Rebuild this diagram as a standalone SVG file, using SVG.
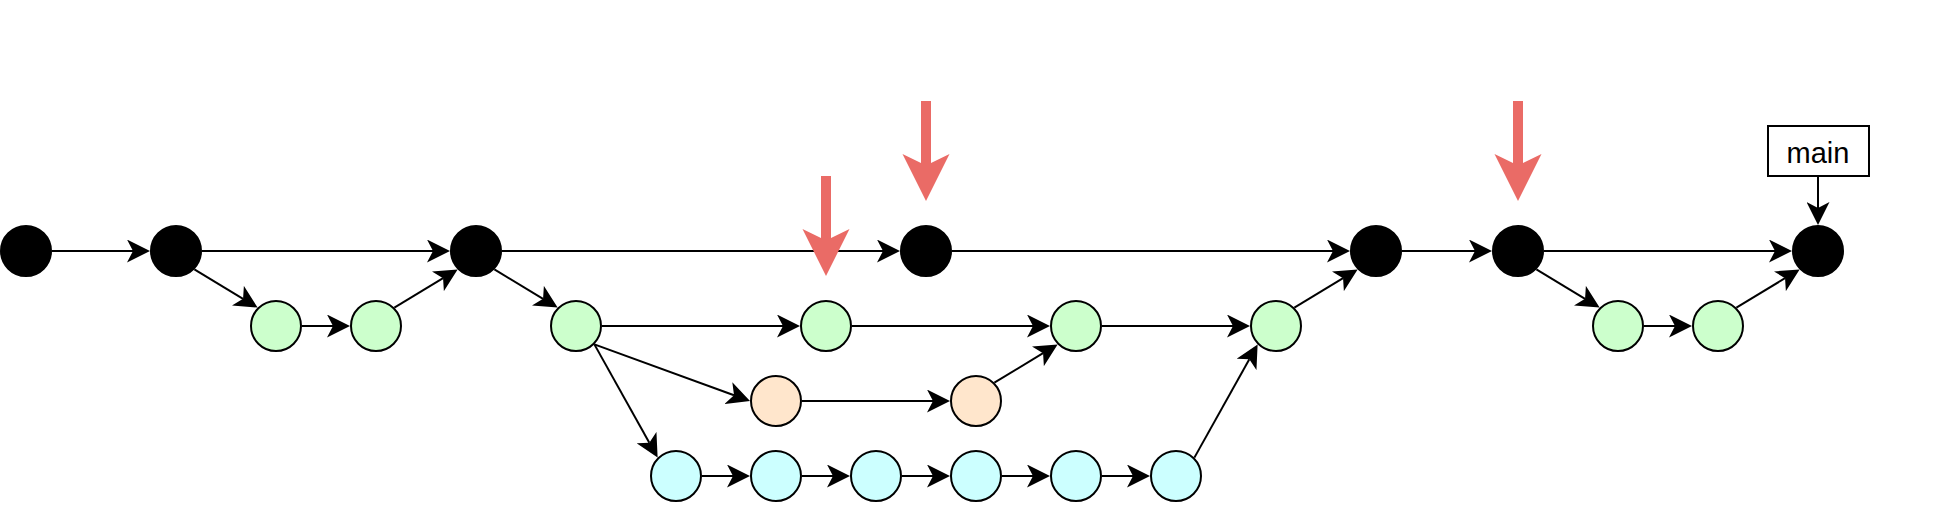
<svg xmlns="http://www.w3.org/2000/svg" width="1948" height="530" viewBox="0 0 1948 530">
<defs>
<style>
.blk{fill:#000;stroke:#000;stroke-width:2}
.grn{fill:#CCFFCC;stroke:#000;stroke-width:2}
.org{fill:#FFE6CC;stroke:#000;stroke-width:2}
.cyn{fill:#CCFFFF;stroke:#000;stroke-width:2}
.e{fill:none;stroke:#000;stroke-width:2;marker-end:url(#ah)}
.red{fill:#EA6B66;stroke:none}
.lbl{font-family:"Liberation Sans",Arial,sans-serif;font-size:29px;fill:#000;text-anchor:middle}
</style>
<marker id="ah" markerUnits="userSpaceOnUse" viewBox="0 0 23 23" markerWidth="23" markerHeight="23" refX="6" refY="11.5" orient="auto">
<path d="M0,0 L23,11.5 L0,23 L6,11.5 Z" fill="#000"/>
</marker>
</defs>
<rect width="1948" height="530" fill="#fff"/>
<g id="connectors">
<line class="e" x1="52" y1="251" x2="133" y2="251"/>
<line class="e" x1="202" y1="251" x2="433" y2="251"/>
<line class="e" x1="502" y1="251" x2="883" y2="251"/>
<line class="e" x1="952" y1="251" x2="1333" y2="251"/>
<line class="e" x1="1402" y1="251" x2="1475" y2="251"/>
<line class="e" x1="1544" y1="251" x2="1775" y2="251"/>
<line class="e" x1="302" y1="326" x2="333" y2="326"/>
<line class="e" x1="602" y1="326" x2="783" y2="326"/>
<line class="e" x1="852" y1="326" x2="1033" y2="326"/>
<line class="e" x1="1102" y1="326" x2="1233" y2="326"/>
<line class="e" x1="1644" y1="326" x2="1675" y2="326"/>
<line class="e" x1="802" y1="401" x2="933" y2="401"/>
<line class="e" x1="702" y1="476" x2="733" y2="476"/>
<line class="e" x1="802" y1="476" x2="833" y2="476"/>
<line class="e" x1="902" y1="476" x2="933" y2="476"/>
<line class="e" x1="1002" y1="476" x2="1033" y2="476"/>
<line class="e" x1="1102" y1="476" x2="1133" y2="476"/>
<line class="e" x1="1818" y1="176" x2="1818" y2="208"/>
<line class="e" x1="194.38" y1="269.38" x2="243.07" y2="298.82"/>
<line class="e" x1="394.38" y1="307.62" x2="443.07" y2="278.18"/>
<line class="e" x1="494.38" y1="269.38" x2="543.07" y2="298.82"/>
<line class="e" x1="594.38" y1="344.38" x2="734.03" y2="395.19"/>
<line class="e" x1="594.38" y1="344.38" x2="649.33" y2="442.78"/>
<line class="e" x1="994.38" y1="382.62" x2="1043.07" y2="353.18"/>
<line class="e" x1="1194.38" y1="457.62" x2="1249.33" y2="359.22"/>
<line class="e" x1="1294.38" y1="307.62" x2="1343.07" y2="278.18"/>
<line class="e" x1="1536.38" y1="269.38" x2="1585.07" y2="298.82"/>
<line class="e" x1="1736.38" y1="307.62" x2="1785.07" y2="278.18"/>
</g>
<g id="b1"><circle class="blk" cx="26" cy="251" r="25"/></g>
<g id="b2"><circle class="blk" cx="176" cy="251" r="25"/></g>
<g id="b3"><circle class="blk" cx="476" cy="251" r="25"/></g>
<g id="b4"><circle class="blk" cx="926" cy="251" r="25"/></g>
<g id="b5"><circle class="blk" cx="1376" cy="251" r="25"/></g>
<g id="b6"><circle class="blk" cx="1518" cy="251" r="25"/></g>
<g id="b7"><circle class="blk" cx="1818" cy="251" r="25"/></g>
<g id="g1"><circle class="grn" cx="276" cy="326" r="25"/></g>
<g id="g2"><circle class="grn" cx="376" cy="326" r="25"/></g>
<g id="g3"><circle class="grn" cx="576" cy="326" r="25"/></g>
<g id="g4"><circle class="grn" cx="826" cy="326" r="25"/></g>
<g id="g5"><circle class="grn" cx="1076" cy="326" r="25"/></g>
<g id="g6"><circle class="grn" cx="1276" cy="326" r="25"/></g>
<g id="g7"><circle class="grn" cx="1618" cy="326" r="25"/></g>
<g id="g8"><circle class="grn" cx="1718" cy="326" r="25"/></g>
<g id="o1"><circle class="org" cx="776" cy="401" r="25"/></g>
<g id="o2"><circle class="org" cx="976" cy="401" r="25"/></g>
<g id="c1"><circle class="cyn" cx="676" cy="476" r="25"/></g>
<g id="c2"><circle class="cyn" cx="776" cy="476" r="25"/></g>
<g id="c3"><circle class="cyn" cx="876" cy="476" r="25"/></g>
<g id="c4"><circle class="cyn" cx="976" cy="476" r="25"/></g>
<g id="c5"><circle class="cyn" cx="1076" cy="476" r="25"/></g>
<g id="c6"><circle class="cyn" cx="1176" cy="476" r="25"/></g>
<g id="main">
<rect x="1768" y="126" width="101" height="50" fill="#fff" stroke="#000" stroke-width="2"/>
<text class="lbl" x="1818" y="163">main</text>
</g>
<g id="red1"><polygon class="red" points="821,176 831,176 831,238 849.5,229 826,276 802.5,229 821,238"/></g>
<g id="red2"><polygon class="red" points="921,101 931,101 931,163 949.5,154 926,201 902.5,154 921,163"/></g>
<g id="red3"><polygon class="red" points="1513,101 1523,101 1523,163 1541.5,154 1518,201 1494.5,154 1513,163"/></g>
</svg>
